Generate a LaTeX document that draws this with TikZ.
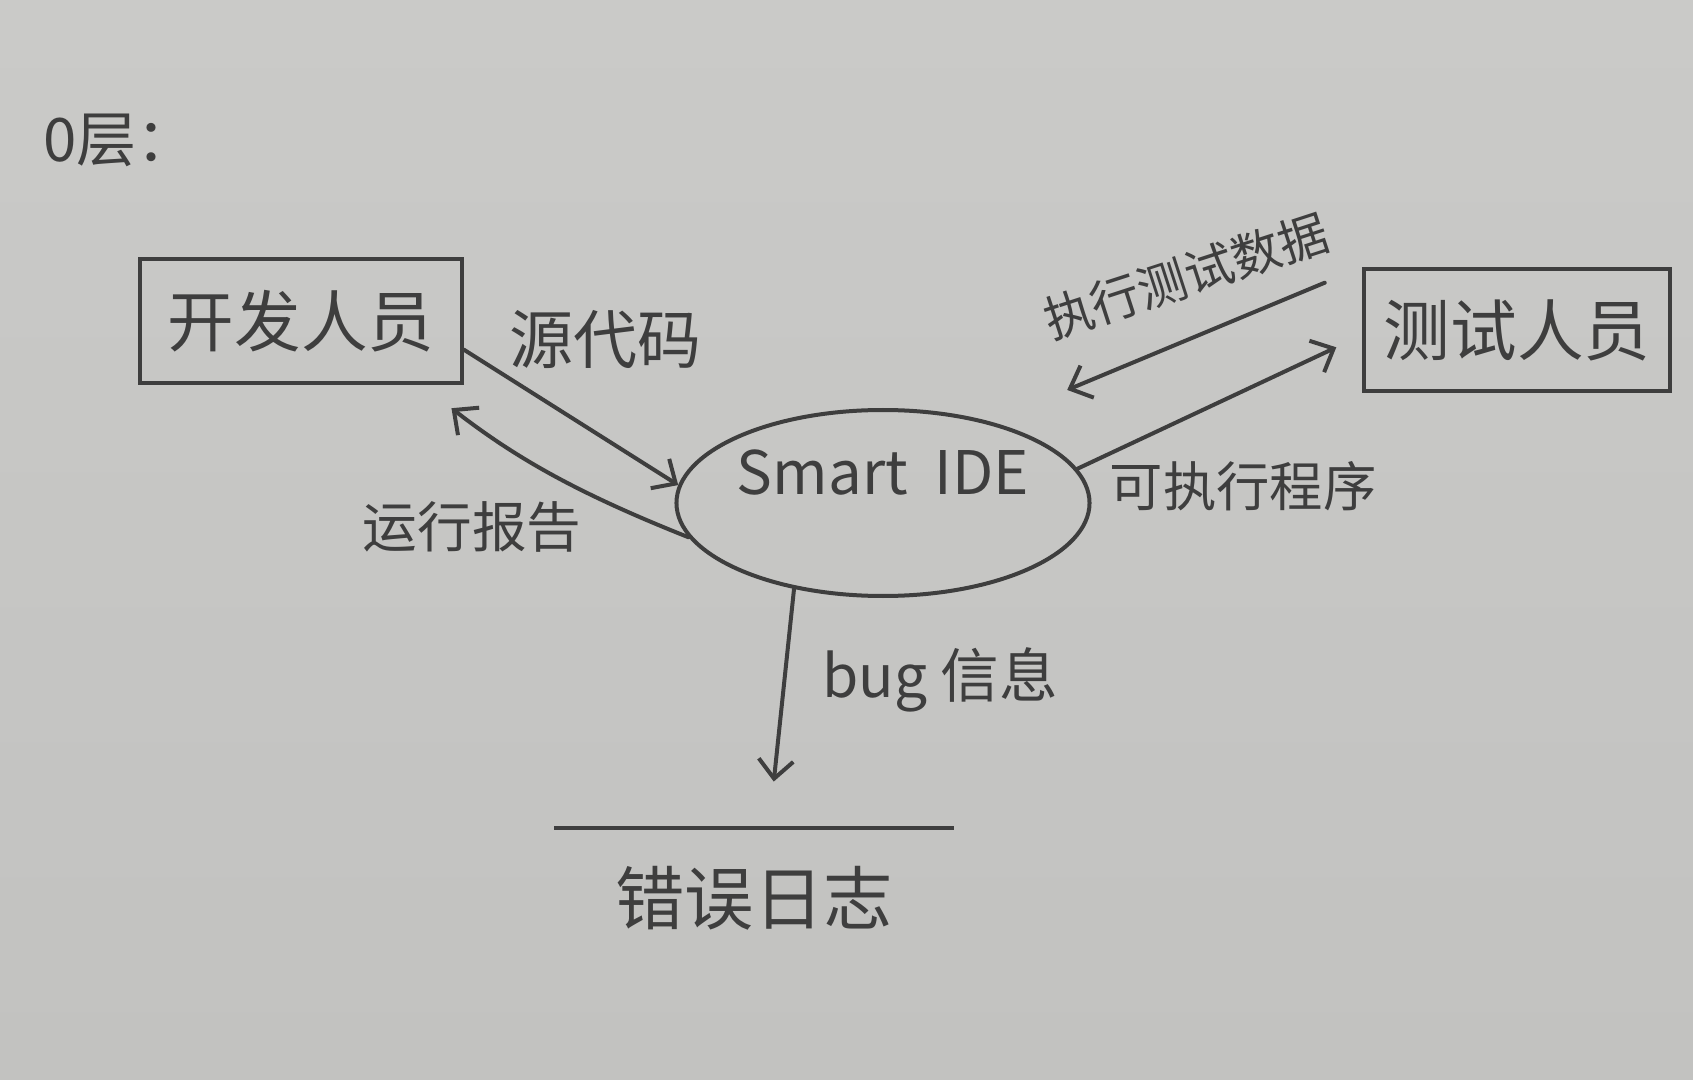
\documentclass[tikz,border=0pt]{standalone}
\usepackage{fontspec}
\setmainfont{Noto Sans CJK SC}
\usetikzlibrary{arrows.meta,shapes.geometric}
\definecolor{pencil}{RGB}{62,62,62}
\definecolor{paperTop}{RGB}{202,202,200}
\definecolor{paperMid}{RGB}{214,214,212}
\definecolor{paperBot}{RGB}{194,194,192}
\tikzset{every picture/.style={line width=3pt}}
\tikzset{
  entity/.style={draw=pencil, rectangle, inner sep=0pt, text=pencil},
  process/.style={draw=pencil, ellipse, inner sep=0pt, text=pencil, minimum width=300pt, minimum height=139.5pt},
  flow/.style={draw=pencil, -{Straight Barb[length=14pt,width=26pt]}, line cap=round},
  flowlabel/.style={text=pencil, inner sep=0.75pt},
}

\begin{document}
\begin{tikzpicture}[x=0.75pt,y=0.75pt,yscale=-1,xscale=1]
\useasboundingbox (0,0) rectangle (1693,1080);
%Paper
\shade[top color=paperTop, middle color=paperMid, bottom color=paperBot] (0,0) rectangle (1693,1080);

% Title
\node[flowlabel, font=\fontsize{45}{54}\selectfont] (title) at (120,140) {0层：};

%External entities
\node[entity, minimum width=241.5pt, minimum height=93pt, font=\fontsize{50}{60}\selectfont] (dev) at (301,321) {开发人员};
\node[entity, minimum width=230pt, minimum height=91pt, font=\fontsize{50}{60}\selectfont] (tester) at (1517,330) {测试人员};

%Process
\node[process, font=\fontsize{45}{54}\selectfont, text height=33pt, text depth=46pt] (ide) at (883,503) {Smart\ \ IDE};

%Data store
\node[text=pencil, inner sep=0pt, minimum width=297pt, minimum height=102pt, font=\fontsize{52}{62}\selectfont] (store) at (754,898) {错误日志};
\draw[pencil] (store.north west) -- (store.north east);

%Flows
\draw[flow] (dev.-10) -- (ide.175);
\draw[flow, shorten >=28.5pt] (ide.190) to[bend right=8] (dev.-28);
\draw[flow, shorten <=30pt, shorten >=62pt] (tester.north west) -- (ide.37);
\draw[flow, shorten >=21pt] (ide.10) -- (tester.182);
\draw[flow, shorten >=35pt] (ide.-136) -- (store.78);

% Text Node
\node[flowlabel, font=\fontsize{48}{58}\selectfont] (srcLbl) at (605,340) {源代码};
\node[flowlabel, font=\fontsize{41}{50}\selectfont] (rptLbl) at (472,527) {运行报告};
\node[flowlabel, font=\fontsize{37}{44}\selectfont, rotate=18] (dataLbl) at (1186,276) {执行测试数据};
\node[flowlabel, font=\fontsize{40}{48}\selectfont] (progLbl) at (1243,486) {可执行程序};
\node[flowlabel, font=\fontsize{44}{52}\selectfont] (bugLbl) at (940,680) {bug 信息};

\end{tikzpicture}
\end{document}
